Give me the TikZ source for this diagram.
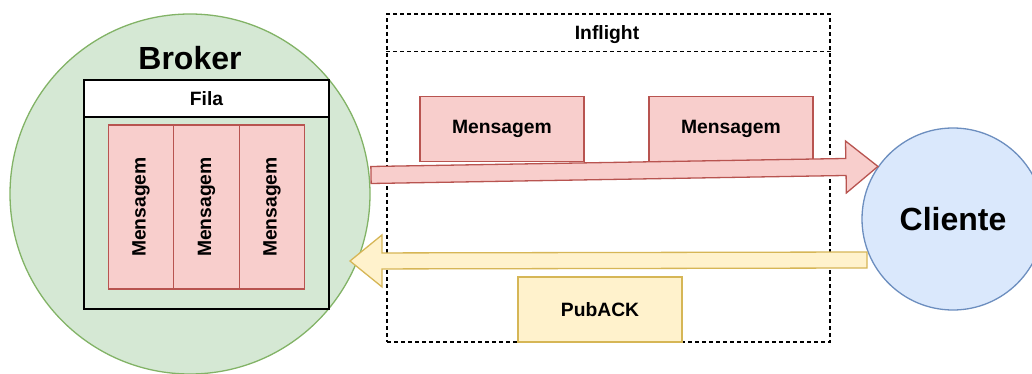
\documentclass[tikz,border=0pt]{standalone}
\usepackage{fontspec}
\setmainfont{Liberation Sans}
\usetikzlibrary{calc}

\definecolor{greenfill}{HTML}{D5E8D4}
\definecolor{greenline}{HTML}{82B366}
\definecolor{redfill}{HTML}{F8CECC}
\definecolor{redline}{HTML}{B85450}
\definecolor{yellowfill}{HTML}{FFF2CC}
\definecolor{yellowline}{HTML}{D6B656}
\definecolor{bluefill}{HTML}{DAE8FC}
\definecolor{blueline}{HTML}{6C8EBF}

\tikzset{
  txt/.style={font=\fontsize{19.3}{23}\selectfont\bfseries},
  bigtxt/.style={font=\fontsize{32}{38}\selectfont\bfseries},
  msgbox/.style={txt,draw=redline,fill=redfill,line width=1.3pt,minimum width=164pt,minimum height=65.5pt,inner sep=0pt},
  ackbox/.style={txt,draw=yellowline,fill=yellowfill,line width=1.3pt,minimum width=164pt,minimum height=65pt,inner sep=0pt},
  inflightbox/.style={draw,dashed,dash pattern=on 4pt off 3pt,line width=1.3pt,minimum width=443pt,minimum height=328pt},
}

% broad arrow from #2 to #3, shaft half width #4
\newcommand{\flatarrow}[4]{%
  \coordinate (hb) at ($(#3)!32pt!(#2)$);
  \draw[#1,line width=1.3pt,line join=miter]
    ($(#2)!#4!90:(#3)$) -- ($(hb)!#4!90:(#3)$) -- ($(hb)!26pt!90:(#3)$) -- (#3)
    -- ($(hb)!26pt!-90:(#3)$) -- ($(hb)!#4!-90:(#3)$) -- ($(#2)!#4!-90:(#3)$) -- cycle;
}

\begin{document}
\begin{tikzpicture}[x=1pt,y=-1pt]
  \clip (0,0) rectangle (1032,374);

  \node[circle,draw=greenline,fill=greenfill,line width=1.3pt,minimum size=360pt] (broker) at (190,194) {};
  \node[bigtxt] (brokerlabel) at (190,58) {Broker};
  \node[draw,line width=1.6pt,minimum width=245pt,minimum height=229pt] (fila) at (206.5,194.5) {};
  \node[txt,draw,fill=white,line width=1.6pt,minimum width=245pt,minimum height=37pt,anchor=north] (filahead) at (fila.north) {Fila};
  \foreach \i/\x in {1/141,2/206.5,3/272}
    \node[msgbox,rotate=90] (msg\i) at (\x,207) {Mensagem};

  \node[inflightbox] (inflight) at (608.5,178) {};
  \draw[dashed,dash pattern=on 4pt off 3pt,line width=1.3pt] ($(inflight.north west)+(0,38)$) -- ($(inflight.north east)+(0,38)$);
  \node[txt] (inflightlabel) at (607,35) {Inflight};
  \node[msgbox] (flight1) at (502,129) {Mensagem};
  \node[msgbox] (flight2) at (731,129) {Mensagem};
  \node[ackbox] (puback) at (600,309.5) {PubACK};

  \node[circle,draw=blueline,fill=bluefill,line width=1.3pt,minimum size=182pt,bigtxt] (cliente) at (953,219) {Cliente};

  \coordinate (pubout) at (371,175);
  \coordinate (ackout) at (867,260);
  \coordinate (ackin) at (350,261);
  \flatarrow{draw=redline,fill=redfill}{pubout}{cliente.145}{8.5pt}
  \flatarrow{draw=yellowline,fill=yellowfill}{ackout}{ackin}{8pt}
\end{tikzpicture}
\end{document}
